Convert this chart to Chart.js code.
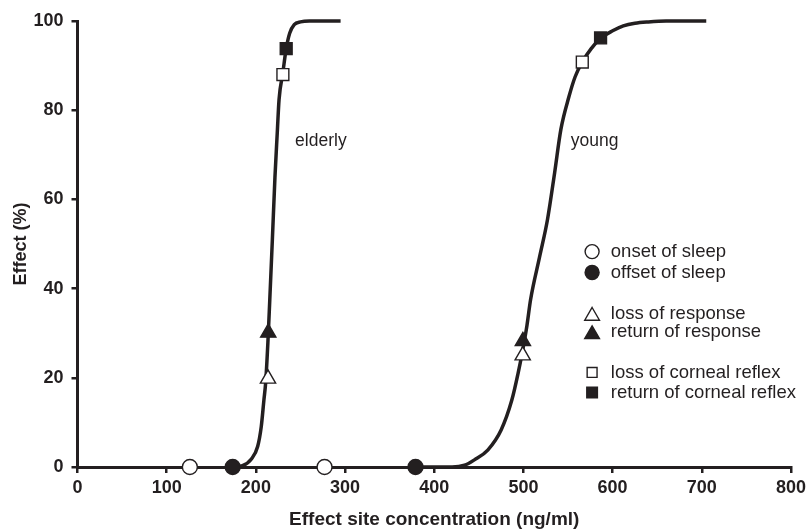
<!DOCTYPE html>
<html>
<head>
<meta charset="utf-8">
<title>Effect vs effect site concentration</title>
<script src="https://cdn.jsdelivr.net/npm/chart.js"></script>
<style>
  html,body{margin:0;padding:0;background:#fff;}
  #wrap{width:810px;height:529px;}
</style>
</head>
<body>
<div id="wrap"><canvas id="c" width="810" height="529"></canvas></div>
<script>
// concentration-effect curves (ng/ml, %)
const elderlyX = [174, 185, 195, 202, 206, 209, 211, 213.5, 215.6, 218.5, 221.4, 224, 226, 230.3, 234, 238, 243, 250, 260, 295];
const elderlyY = [0, 0.3, 1.8, 4.6, 9, 15, 19, 28, 37.5, 51, 65, 75, 82.4, 88.5, 93.8, 97.3, 99.2, 99.8, 100, 100];
const youngX = [379, 420, 434, 445, 460, 475, 487, 494, 499, 504, 508, 518, 527, 535, 542, 551, 558, 566, 576, 587, 600, 612, 625, 640, 660, 705];
const youngY = [0, 0, 0.4, 1.6, 3.8, 8.3, 15, 21, 26, 31.8, 37.5, 47, 55.5, 66, 75.7, 83, 87.5, 90.8, 93.8, 96.2, 97.8, 98.9, 99.5, 99.8, 100, 100];

// observed events: [elderly, young]
const onsetSleepX = [126, 277],    onsetSleepY = [0, 0];
const offsetSleepX = [174, 379],   offsetSleepY = [0, 0];
const lossRespX = [213.6, 499.2],  lossRespY = [19.8, 25.0];
const returnRespX = [213.9, 499.4], returnRespY = [30.1, 28.2];
const lossCornX = [230.3, 566],    lossCornY = [88, 90.8];
const returnCornX = [234, 586.5],  returnCornY = [93.8, 96.2];

const xTicks = [0, 100, 200, 300, 400, 500, 600, 700, 800];
const yTicks = [0, 20, 40, 60, 80, 100];

const curveLabels = [{text:'elderly', x:244, y:73}, {text:'young', x:553, y:73}];
const legendItems = [
  {text:'onset of sleep',           style:'circle',   fill:'#fff',    r:7,   y:48.3},
  {text:'offset of sleep',          style:'circle',   fill:'#231f20', r:7,   y:43.6},
  {text:'loss of response',         style:'triangle', fill:'#fff',    r:8.5, y:34.3},
  {text:'return of response',       style:'triangle', fill:'#231f20', r:8.5, y:30.2},
  {text:'loss of corneal reflex',   style:'rect',     fill:'#fff',    r:7,   y:21.2},
  {text:'return of corneal reflex', style:'rect',     fill:'#231f20', r:7.5, y:16.7},
];

const INK = '#231f20';
const FONT = "'Liberation Sans', Arial, Helvetica, sans-serif";
const pts = (xs, ys) => xs.map((x, i) => ({x, y: ys[i]}));

function curve(xs, ys){
  return {type:'line', data:pts(xs, ys), borderColor:INK, borderWidth:3.5,
    pointRadius:0, cubicInterpolationMode:'monotone', fill:false, clip:false, order:2};
}
function marks(xs, ys, style, fill, r){
  return {type:'scatter', data:pts(xs, ys), pointStyle:style, pointRadius:r,
    pointBackgroundColor:fill, pointBorderColor:INK, pointBorderWidth:1.4,
    clip:false, order:1};
}

const annot = {
  id:'annot',
  afterDatasetsDraw(chart){
    const {ctx, scales:{x, y}} = chart;
    ctx.save();
    ctx.fillStyle = INK;
    ctx.font = '17.5px ' + FONT;
    ctx.textAlign = 'left'; ctx.textBaseline = 'middle';
    curveLabels.forEach(l => ctx.fillText(l.text, x.getPixelForValue(l.x), y.getPixelForValue(l.y)));

    ctx.font = '18.5px ' + FONT;
    const symX = x.getPixelForValue(577), txtX = x.getPixelForValue(598);
    legendItems.forEach(it => {
      const py = y.getPixelForValue(it.y);
      ctx.fillStyle = it.fill; ctx.strokeStyle = INK; ctx.lineWidth = 1.4;
      Chart.helpers.drawPoint(ctx, {pointStyle:it.style, radius:it.r, rotation:0, borderWidth:1.4},
        symX, py + (it.style === 'triangle' ? 2 : 0));
      ctx.fillStyle = INK;
      ctx.fillText(it.text, txtX, py);
    });
    ctx.restore();
  }
};

new Chart(document.getElementById('c'), {
  data:{datasets:[
    curve(elderlyX, elderlyY),
    curve(youngX, youngY),
    marks(onsetSleepX, onsetSleepY, 'circle', '#fff', 7.5),
    marks(offsetSleepX, offsetSleepY, 'circle', INK, 7.5),
    marks(lossRespX, lossRespY, 'triangle', '#fff', 8.8),
    marks(returnRespX, returnRespY, 'triangle', INK, 8.8),
    marks(lossCornX, lossCornY, 'rect', '#fff', 8.4),
    marks(returnCornX, returnCornY, 'rect', INK, 8.4),
  ]},
  options:{
    responsive:false, devicePixelRatio:1, animation:false,
    layout:{padding:{top:21, right:16, left:0, bottom:0}},
    plugins:{legend:{display:false}, tooltip:{enabled:false}},
    scales:{
      x:{type:'linear', min:0, max:800,
        afterBuildTicks:s => { s.ticks = xTicks.map(v => ({value:v})); },
        afterFit:s => { s.height = 62; },
        grid:{drawOnChartArea:false, drawTicks:true, tickLength:6, color:INK, lineWidth:2.5},
        border:{display:true, color:INK, width:3},
        ticks:{color:INK, padding:4, font:{family:FONT, size:18, weight:'bold'}, maxRotation:0},
        title:{display:true, text:'Effect site concentration (ng/ml)', color:INK,
          padding:{top:0, bottom:0}, font:{family:FONT, size:19, weight:'bold', lineHeight:1}}
      },
      y:{type:'linear', min:0, max:100,
        afterBuildTicks:s => { s.ticks = yTicks.map(v => ({value:v})); },
        afterFit:s => { s.width = 77.5; },
        grid:{drawOnChartArea:false, drawTicks:true, tickLength:6, color:INK, lineWidth:2.5},
        border:{display:true, color:INK, width:3},
        ticks:{color:INK, padding:8, font:{family:FONT, size:18, weight:'bold'}},
        title:{display:true, text:'Effect (%)', color:INK,
          padding:{top:12, bottom:0}, font:{family:FONT, size:18, weight:'bold', lineHeight:1}}
      }
    }
  },
  plugins:[annot]
});
</script>
</body>
</html>
